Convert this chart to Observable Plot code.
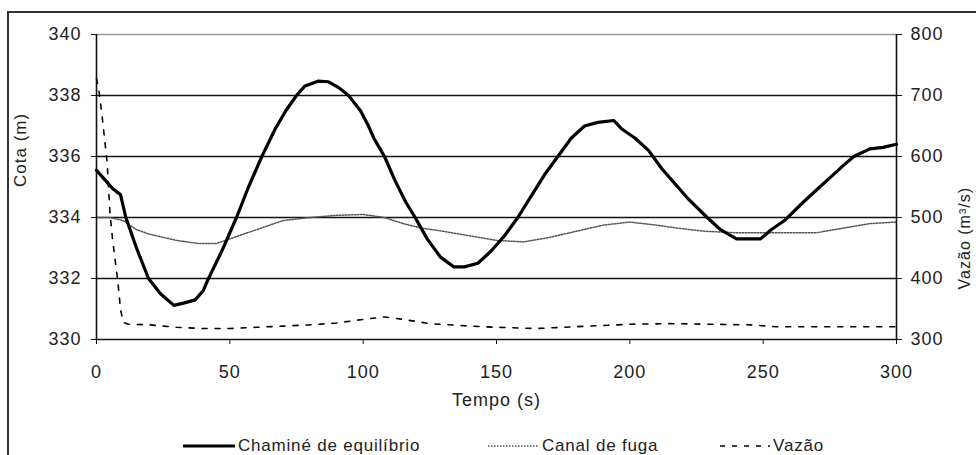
<!DOCTYPE html>
<html>
<head>
<meta charset="utf-8">
<script src="https://cdn.jsdelivr.net/npm/d3@7"></script>
<script src="https://cdn.jsdelivr.net/npm/@observablehq/plot@0.6"></script>
<style>
  html, body { margin: 0; padding: 0; background: #fff; }
  body { width: 976px; height: 455px; position: relative; overflow: hidden; font-family: "Liberation Sans", Arial, sans-serif; color: #222; }
  #frame { position: absolute; left: 7px; top: 11px; width: 1100px; height: 600px; border-left: 2px solid #333; border-top: 2px solid #333; }
  #chart { position: absolute; left: 0; top: 0; }
  .leg { position: absolute; top: 436px; height: 20px; display: flex; align-items: center; font-size: 17px; letter-spacing: 0.8px; color: #222; white-space: nowrap; }
  .leg svg { margin-right: 3px; }
</style>
</head>
<body>
<div id="frame"></div>
<div id="chart"></div>
<div class="leg" style="left:183px"><svg width="52" height="8"><line x1="0" x2="52" y1="4" y2="4" stroke="#000" stroke-width="3"/></svg>Chaminé de equilíbrio</div>
<div class="leg" style="left:488px"><svg width="51" height="8"><line x1="0" x2="51" y1="4" y2="4" stroke="#555" stroke-width="1.5" stroke-dasharray="1.5,1.5"/></svg>Canal de fuga</div>
<div class="leg" style="left:720px"><svg width="50" height="8"><line x1="0" x2="50" y1="4" y2="4" stroke="#000" stroke-width="1.5" stroke-dasharray="5,7"/></svg>Vazão</div>
<script>
// Chaminé de equilíbrio: time (s) and level (m)
const chamineT = [0,3,6,9,11,15,19.5,24,29,33,37,40,42,47,52.5,57,62,67,71,75,78,83,87,91,94.5,99,102,104,106,108,112,116,119.5,124,129,134,138,143,148,153,158,163,168,173,178,183,188,194,197,202,207,212,218,222,229,234,240,249,253,258,265,270,275,280,284,290,295,300];
const chamineV = [335.55,335.25,334.95,334.75,334.0,333.0,332.0,331.5,331.12,331.2,331.3,331.6,332.0,332.9,334.0,335.0,336.0,336.9,337.5,338.0,338.3,338.47,338.45,338.25,338.0,337.5,337.0,336.6,336.3,336.0,335.2,334.5,334.0,333.3,332.7,332.38,332.38,332.5,332.9,333.4,334.0,334.7,335.4,336.0,336.6,337.0,337.12,337.18,336.9,336.6,336.2,335.6,335.0,334.6,334.0,333.6,333.3,333.3,333.6,333.9,334.5,334.9,335.3,335.7,336.0,336.25,336.3,336.4];

// Canal de fuga: time (s) and level (m)
const canalT = [0,5,10,15,20,25,30,38,45,50,55,60,65,70,80,90,100,108,115,122,130,140,150,160,170,180,190,200,210,218,228,240,255,270,280,290,300];
const canalV = [334.0,334.0,333.9,333.6,333.45,333.35,333.25,333.15,333.15,333.3,333.45,333.6,333.75,333.9,334.0,334.07,334.1,334.0,333.8,333.65,333.55,333.4,333.25,333.2,333.35,333.55,333.75,333.85,333.75,333.65,333.55,333.5,333.5,333.5,333.65,333.8,333.85];

// Vazão: time (s) and flow (m³/s)
const vazaoT = [0,1,2,3,4,5,6,7,8,9,10,12,20,30,40,50,60,70,80,90,100,108,115,125,140,150,165,175,185,200,215,230,245,255,270,285,300];
const vazaoV = [728,705,670,630,590,510,465,430,395,350,328,325,324,320,318,318,320,322,324,327,333,337,333,326,322,320,318,320,322,325,326,325,324,321,321,321,321];

// Axis ticks
const xTicks = [0,50,100,150,200,250,300];
const leftTicks = [330,332,334,336,338,340];
const rightTicks = [300,400,500,600,700,800];

// right axis (m³/s) mapped onto the left (m) scale
const leftDom = [330,340], rightDom = [300,800];
const toLeft = v => leftDom[0] + (v - rightDom[0]) * (leftDom[1]-leftDom[0]) / (rightDom[1]-rightDom[0]);
const toRight = d => rightDom[0] + (d - leftDom[0]) * (rightDom[1]-rightDom[0]) / (leftDom[1]-leftDom[0]);

const chamine = chamineT.map((t,i) => ({t, v: chamineV[i]}));
const canal = canalT.map((t,i) => ({t, v: canalV[i]}));
const vazao = vazaoT.map((t,i) => ({t, v: toLeft(vazaoV[i])}));

const chart = Plot.plot({
  width: 976,
  height: 420,
  marginLeft: 96,
  marginRight: 80,
  marginTop: 34,
  marginBottom: 81,
  style: {fontFamily: "'Liberation Sans', Arial, sans-serif", fontSize: "18px", letterSpacing: "1px", color: "#222", background: "transparent", overflow: "visible"},
  x: {domain: [0,300]},
  y: {domain: leftDom},
  marks: [
    Plot.ruleY([340], {stroke: "#999", strokeWidth: 1.5}),
    Plot.ruleY([332,334,336,338], {stroke: "#111", strokeWidth: 1.4}),
    Plot.line(vazao, {x: "t", y: "v", stroke: "#000", strokeWidth: 1.6, strokeDasharray: "5,8"}),
    Plot.line(canal, {x: "t", y: "v", stroke: "#555", strokeWidth: 1.5, strokeDasharray: "1.5,1.5"}),
    Plot.line(chamine, {x: "t", y: "v", stroke: "#000", strokeWidth: 3.2}),
    Plot.ruleX([0], {stroke: "#111", strokeWidth: 1.6}),
    Plot.ruleX([300], {stroke: "#111", strokeWidth: 1.6}),
    Plot.ruleY([330], {stroke: "#111", strokeWidth: 1.6}),
    Plot.axisX({ticks: xTicks, tickSize: 5, tickPadding: 21, label: null, stroke: "#111", fill: "#222"}),
    Plot.axisY({anchor: "left", ticks: leftTicks, tickSize: 5, tickPadding: 10, label: null, stroke: "#111", fill: "#222"}),
    Plot.axisY({anchor: "right", ticks: rightTicks.map(toLeft), tickFormat: d => String(Math.round(toRight(d))), tickSize: 5, tickPadding: 9, label: null, stroke: "#111", fill: "#222"}),
    Plot.text(["Tempo (s)"], {frameAnchor: "bottom", dy: 66, fill: "#222"}),
    Plot.text(["Cota (m)"], {frameAnchor: "left", dx: -76, rotate: -90, fill: "#222", fontSize: 17}),
    Plot.text(["Vazão (m³/s)"], {frameAnchor: "right", dx: 68, rotate: -90, fill: "#222", fontSize: 16, letterSpacing: "0.5px"})
  ]
});
document.getElementById("chart").appendChild(chart);
</script>
</body>
</html>
